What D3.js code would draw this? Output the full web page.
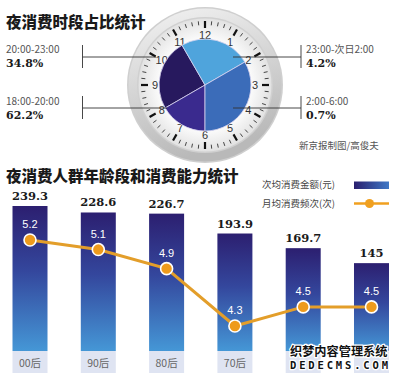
<!DOCTYPE html>
<html>
<head>
<meta charset="utf-8">
<script src="https://cdn.jsdelivr.net/npm/d3@7"></script>
<style>
  body { margin: 0; background: #fff; }
  svg { display: block; }
  .cjk { font-family: "Noto Sans CJK SC", sans-serif; }
  .num { font-family: "DejaVu Serif", serif; font-weight: bold; }
</style>
</head>
<body>
<div id="wrapper"></div>
<script>
// clock data: time slot, share, start / end hour on a 12h face
const slotLabels = ["20:00-23:00", "18:00-20:00", "23:00-次日2:00", "2:00-6:00"];
const slotShares = [34.8, 62.2, 4.2, 0.7];
const slotStartHour = [20, 18, 23, 2];
const slotEndHour = [23, 20, 26, 6];
const slotColors = ["#27195e", "#3a2a8e", "#4fa4dc", "#3b6cb9"];

// age group data
const ageGroups = ["00后", "90后", "80后", "70后", "60后", "50后"];
const avgSpend = [239.3, 228.6, 226.7, 193.9, 169.7, 145];
const monthlyFreq = [5.2, 5.1, 4.9, 4.3, 4.5, 4.5];
// the last two labels sit under the watermark in the source picture
const visibleAgeLabels = ["00后", "90后", "80后", "70后"];

function draw() {
    const width = 400, height = 378;
    const svg = d3.select("#wrapper").append("svg")
        .attr("width", width)
        .attr("height", height);
    const defs = svg.append("defs");

    // gradients
    const barGrad = defs.append("linearGradient").attr("id", "bar-grad")
        .attr("x1", 0).attr("y1", 0).attr("x2", 0).attr("y2", 1);
    barGrad.append("stop").attr("offset", "0%").attr("stop-color", "#2c1f70");
    barGrad.append("stop").attr("offset", "45%").attr("stop-color", "#34479d");
    barGrad.append("stop").attr("offset", "100%").attr("stop-color", "#4597d6");
    const legGrad = defs.append("linearGradient").attr("id", "leg-grad");
    legGrad.append("stop").attr("offset", "0%").attr("stop-color", "#2a1f6e");
    legGrad.append("stop").attr("offset", "100%").attr("stop-color", "#3f78c6");
    const ringGrad = defs.append("linearGradient").attr("id", "ring-grad")
        .attr("x1", 0).attr("y1", 0).attr("x2", 0.3).attr("y2", 1);
    ringGrad.append("stop").attr("offset", "0%").attr("stop-color", "#f3f3f3");
    ringGrad.append("stop").attr("offset", "100%").attr("stop-color", "#b9b9b9");
    const faceGrad = defs.append("radialGradient").attr("id", "face-grad");
    faceGrad.append("stop").attr("offset", "70%").attr("stop-color", "#fafafa");
    faceGrad.append("stop").attr("offset", "100%").attr("stop-color", "#e2e2e2");

    // titles
    svg.append("text").attr("class", "cjk")
        .attr("x", 6).attr("y", 28)
        .attr("font-size", 15.5).attr("font-weight", 900).attr("fill", "#1a1a1a")
        .text("夜消费时段占比统计");
    svg.append("text").attr("class", "cjk")
        .attr("x", 6).attr("y", 182)
        .attr("font-size", 15.5).attr("font-weight", 900).attr("fill", "#1a1a1a")
        .text("夜消费人群年龄段和消费能力统计");

    // ---- clock ----
    const cx = 205, cy = 85;
    const clock = svg.append("g").attr("transform", `translate(${cx},${cy})`);
    clock.append("circle").attr("r", 78).attr("fill", "#cfcfcf");
    clock.append("circle").attr("r", 76.5).attr("fill", "url(#ring-grad)");
    clock.append("circle").attr("r", 68).attr("fill", "#d0d0d0");
    clock.append("circle").attr("r", 66.5).attr("fill", "url(#face-grad)");

    const hourAngle = d3.scaleLinear().domain([0, 12]).range([0, 2 * Math.PI]);
    const minuteAngle = d3.scaleLinear().domain([0, 60]).range([0, 2 * Math.PI]);

    clock.selectAll(".tick")
        .data(d3.range(60))
        .join("line")
        .attr("class", "tick")
        .attr("x1", d => Math.sin(minuteAngle(d)) * (d % 5 === 0 ? 57 : 60))
        .attr("y1", d => -Math.cos(minuteAngle(d)) * (d % 5 === 0 ? 57 : 60))
        .attr("x2", d => Math.sin(minuteAngle(d)) * 64)
        .attr("y2", d => -Math.cos(minuteAngle(d)) * 64)
        .attr("stroke", d => d % 5 === 0 ? "#111" : "#444")
        .attr("stroke-width", d => d % 5 === 0 ? 2.2 : 1);

    clock.selectAll(".hour")
        .data(d3.range(1, 13))
        .join("text")
        .attr("class", "hour")
        .attr("x", d => Math.sin(hourAngle(d)) * 50)
        .attr("y", d => -Math.cos(hourAngle(d)) * 50)
        .attr("dy", "0.35em")
        .attr("text-anchor", "middle")
        .attr("font-family", "Liberation Sans, sans-serif")
        .attr("font-size", 11)
        .attr("fill", "#333")
        .text(d => d);

    const arc = d3.arc().innerRadius(0).outerRadius(46);
    clock.selectAll(".slice")
        .data(slotLabels.map((d, i) => ({
            startAngle: hourAngle(slotStartHour[i] % 12),
            endAngle: hourAngle(slotStartHour[i] % 12 + (slotEndHour[i] - slotStartHour[i])),
            color: slotColors[i]
        })))
        .join("path")
        .attr("class", "slice")
        .attr("d", arc)
        .attr("fill", d => d.color)
        .attr("stroke", "#d8d4f0")
        .attr("stroke-width", 0.8);

    // connector lines + labels
    const labelPos = [
        { x: 6, y: 53, lineY: 57, barX: 82.5, endX: 156 },
        { x: 6, y: 105, lineY: 108, barX: 82.5, endX: 167 },
        { x: 306, y: 53, lineY: 57, barX: 301, endX: 233 },
        { x: 306, y: 105, lineY: 108, barX: 301, endX: 233 }
    ];
    const conn = svg.append("g").attr("stroke", "#333").attr("stroke-width", 0.9);
    labelPos.forEach(p => {
        conn.append("line").attr("x1", p.barX).attr("x2", p.endX)
            .attr("y1", p.lineY).attr("y2", p.lineY);
        conn.append("line").attr("x1", p.barX).attr("x2", p.barX)
            .attr("y1", p.lineY - 12).attr("y2", p.lineY + 11);
    });
    svg.selectAll(".slot-label")
        .data(slotLabels)
        .join("text")
        .attr("class", "slot-label cjk")
        .attr("x", (d, i) => labelPos[i].x)
        .attr("y", (d, i) => labelPos[i].y)
        .attr("font-size", 10)
        .attr("fill", "#555")
        .text(d => d);
    svg.selectAll(".slot-share")
        .data(slotShares)
        .join("text")
        .attr("class", "slot-share num")
        .attr("x", (d, i) => labelPos[i].x)
        .attr("y", (d, i) => labelPos[i].y + 14)
        .attr("font-size", 11)
        .attr("fill", "#1a1a1a")
        .text(d => `${d3.format(".1f")(d)}%`);

    svg.append("text").attr("class", "cjk")
        .attr("x", 299).attr("y", 149)
        .attr("font-size", 9.5).attr("fill", "#555")
        .text("新京报制图/高俊夫");

    // ---- bar + line chart ----
    const xScale = d3.scaleBand()
        .domain(ageGroups)
        .range([12.5, 389])
        .paddingInner(0.4875)
        .paddingOuter(0);
    const yBar = d3.scaleLinear()
        .domain([0, d3.max(avgSpend)])
        .range([351, 206]);
    const yLine = d3.scaleLinear()
        .domain([d3.min(monthlyFreq), d3.max(monthlyFreq)])
        .range([326, 240]);

    const bars = svg.append("g");
    bars.selectAll(".bar")
        .data(avgSpend)
        .join("rect")
        .attr("class", "bar")
        .attr("x", (d, i) => xScale(ageGroups[i]))
        .attr("y", d => yBar(d))
        .attr("width", xScale.bandwidth())
        .attr("height", d => yBar(0) - yBar(d))
        .attr("fill", "url(#bar-grad)");
    bars.selectAll(".cat-box")
        .data(ageGroups)
        .join("rect")
        .attr("class", "cat-box")
        .attr("x", d => xScale(d))
        .attr("y", yBar(0))
        .attr("width", xScale.bandwidth())
        .attr("height", 22)
        .attr("fill", "#dfe4f2");
    bars.selectAll(".cat-label")
        .data(visibleAgeLabels)
        .join("text")
        .attr("class", "cat-label cjk")
        .attr("x", d => xScale(d) + xScale.bandwidth() / 2)
        .attr("y", yBar(0) + 15.5)
        .attr("text-anchor", "middle")
        .attr("font-size", 10.5)
        .attr("fill", "#666")
        .text(d => d);
    bars.selectAll(".bar-value")
        .data(avgSpend)
        .join("text")
        .attr("class", "bar-value num")
        .attr("x", (d, i) => xScale(ageGroups[i]) + xScale.bandwidth() / 2)
        .attr("y", d => yBar(d) - 6)
        .attr("text-anchor", "middle")
        .attr("font-size", 11.5)
        .attr("fill", "#1a1a1a")
        .text(d => d);

    const lineGen = d3.line()
        .x((d, i) => xScale(ageGroups[i]) + xScale.bandwidth() / 2)
        .y(d => yLine(d));
    svg.append("path")
        .datum(monthlyFreq)
        .attr("d", lineGen)
        .attr("fill", "none")
        .attr("stroke", "#e39e2a")
        .attr("stroke-width", 3);
    svg.selectAll(".dot")
        .data(monthlyFreq)
        .join("circle")
        .attr("class", "dot")
        .attr("cx", (d, i) => xScale(ageGroups[i]) + xScale.bandwidth() / 2)
        .attr("cy", d => yLine(d))
        .attr("r", 6)
        .attr("fill", "#ee9b1c")
        .attr("stroke", "#fff")
        .attr("stroke-width", 1.6);
    svg.selectAll(".dot-value")
        .data(monthlyFreq)
        .join("text")
        .attr("class", "dot-value")
        .attr("x", (d, i) => xScale(ageGroups[i]) + xScale.bandwidth() / 2)
        .attr("y", d => yLine(d) - 12)
        .attr("text-anchor", "middle")
        .attr("font-family", "Liberation Sans, sans-serif")
        .attr("font-size", 11)
        .attr("fill", "#fff")
        .text(d => d3.format(".1f")(d));

    // legend
    const legend = svg.append("g");
    legend.append("text").attr("class", "cjk")
        .attr("x", 262).attr("y", 188)
        .attr("font-size", 9.5).attr("fill", "#444")
        .text("次均消费金额(元)");
    legend.append("rect")
        .attr("x", 354).attr("y", 181.5)
        .attr("width", 35).attr("height", 7.5)
        .attr("fill", "url(#leg-grad)");
    legend.append("text").attr("class", "cjk")
        .attr("x", 262).attr("y", 207)
        .attr("font-size", 9.5).attr("fill", "#444")
        .text("月均消费频次(次)");
    legend.append("line")
        .attr("x1", 354).attr("x2", 389)
        .attr("y1", 203.5).attr("y2", 203.5)
        .attr("stroke", "#f0a020").attr("stroke-width", 2.5);
    legend.append("circle")
        .attr("cx", 369.5).attr("cy", 203.5).attr("r", 4.5)
        .attr("fill", "#f0a020");

    // watermark
    const wm = svg.append("g")
        .attr("font-weight", "bold")
        .attr("fill", "#111")
        .attr("stroke", "#fff")
        .attr("stroke-width", 2.5)
        .attr("paint-order", "stroke")
        .attr("stroke-linejoin", "round");
    wm.append("text").attr("class", "cjk")
        .attr("x", 290).attr("y", 356)
        .attr("font-size", 12.2)
        .text("织梦内容管理系统");
    wm.append("text")
        .attr("x", 290).attr("y", 369)
        .attr("font-family", "DejaVu Sans Mono, monospace")
        .attr("font-size", 10.5)
        .attr("textLength", 98)
        .text("DEDECMS.COM");
}

draw();
</script>
</body>
</html>
